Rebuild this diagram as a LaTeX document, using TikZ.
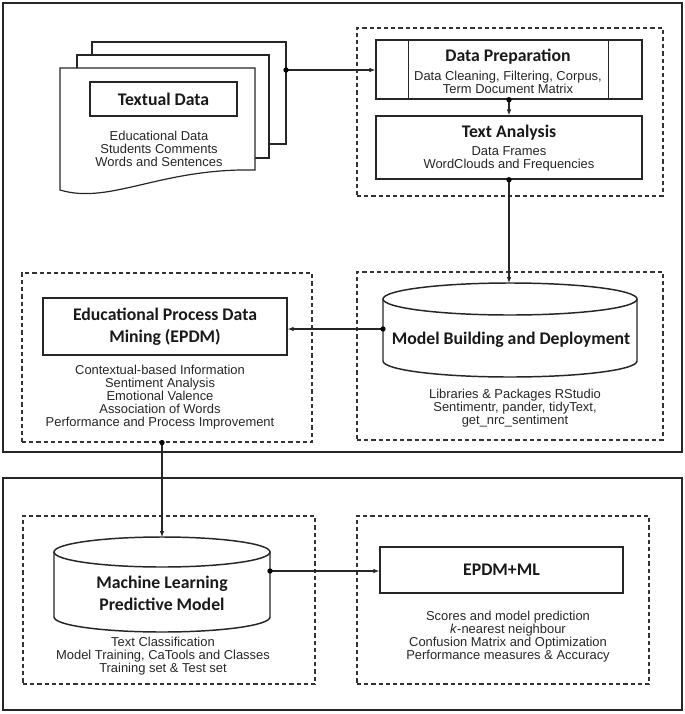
\documentclass[tikz,border=0pt]{standalone}
\usepackage{fontspec}
\setmainfont{Liberation Sans}
\newfontfamily\titlefont{Carlito}
\usepackage{tikz}
\usetikzlibrary{arrows.meta,calc}

\tikzset{
  frame/.style={draw=black!85, line width=1.3pt},
  grp/.style={draw=black!80, line width=0.85pt, dash pattern=on 3.2pt off 2.2pt, inner sep=0pt},
  box/.style={draw=black!85, line width=1.1pt, fill=white, inner sep=0pt},
  doc/.style={draw=black!85, line width=0.9pt, fill=white},
  ttl/.style={font=\titlefont\bfseries\fontsize{13.3}{16.5}\selectfont, align=center, inner sep=0pt, text=black!90},
  sub/.style={font=\fontsize{9.7}{9.7}\selectfont, align=center, inner sep=0pt, text=black!85},
  dot/.style={circle, fill=black, inner sep=0pt, minimum size=4pt},
  flow/.style={draw=black!85, line width=0.8pt, -{Latex[length=4.5pt,width=3.5pt]}}
}

\begin{document}
\begin{tikzpicture}[x=0.75pt,y=0.75pt,yscale=-1,xscale=1]
\useasboundingbox (0,0) rectangle (685,714);
%Shape: Rectangle [outer frames]
\draw[frame] (3,3) rectangle (682,452);
\draw[frame] (3,478) rectangle (682,710);

%Shape: Dashed groups
\node[grp, minimum width=229.5pt, minimum height=126pt] (gprep) at (510,112) {};
\node[grp, minimum width=229.5pt, minimum height=126pt] (gmodel) at (510,356) {};
\node[grp, minimum width=217.5pt, minimum height=126.75pt] (gepdm) at (167,357.5) {};
\node[grp, minimum width=219pt, minimum height=126pt] (gml) at (169,600) {};
\node[grp, minimum width=219pt, minimum height=126pt] (gres) at (503,600) {};

%Shape: Documents
\draw[doc] (92,42) rectangle (286,144);
\draw[doc] (77,55) rectangle (269,158);
\draw[doc] (60,68) -- (255,68) -- (255,170) .. controls (160,168) and (110,205) .. (60,190) -- cycle;
\coordinate (docs-out) at (286,70);

% Text Node
\node[box, ttl, minimum width=110.25pt, minimum height=25.5pt] (txt) at (163.5,99) {Textual Data};
\node[sub] (txt-s) at (159,148.5) {Educational Data\\Students Comments\\Words and Sentences};

%Shape: Data Preparation
\node[box, minimum width=199.5pt, minimum height=44.25pt] (prep) at (509,69.5) {};
\draw[box] ($(prep.north west)+(33,0)$) -- ($(prep.south west)+(33,0)$);
\draw[box] ($(prep.north east)+(-34,0)$) -- ($(prep.south east)+(-34,0)$);
\node[ttl] (prep-t) at (508,57) {Data Preparation};
\node[sub] (prep-s) at (508,82.5) {Data Cleaning, Filtering, Corpus,\\Term Document Matrix};

%Shape: Text Analysis
\node[box, minimum width=199.5pt, minimum height=47.25pt] (ta) at (509,147.5) {};
\node[ttl] (ta-t) at (509,133) {Text Analysis};
\node[sub] (ta-s) at (509,158.5) {Data Frames\\WordClouds and Frequencies};

%Shape: Cylinder [model]
\draw[box] (383,299) -- (383,361) arc[start angle=180, end angle=0, x radius=127, y radius=16] -- (637,299);
\draw[box] (510,299) ellipse [x radius=127, y radius=16];
\node[ttl] (mbd) at (511,340) {Model Building and Deployment};
\coordinate (mbd-top) at (510,283);
\coordinate (mbd-left) at (383,329);
\node[sub] (mbd-s) at (515,408) {Libraries \& Packages RStudio\\Sentimentr, pander, tidyText,\\get\_nrc\_sentiment};

%Shape: EPDM
\node[box, ttl, minimum width=183pt, minimum height=42.75pt] (epdm) at (165,326.5) {Educational Process Data\\Mining (EPDM)};
\node[sub] (epdm-s) at (160,397.5) {Contextual-based Information\\Sentiment Analysis\\Emotional Valence\\Association of Words\\Performance and Process Improvement};

%Shape: Cylinder [machine learning]
\draw[box] (54,552) -- (54,617) arc[start angle=180, end angle=0, x radius=108, y radius=15] -- (270,552);
\draw[box] (162,552) ellipse [x radius=108, y radius=15];
\node[ttl] (ml) at (162,593) {Machine Learning\\Predictive Model};
\coordinate (ml-top) at (162,537);
\coordinate (ml-right) at (270,571);
\node[sub] (ml-s) at (163,656) {Text Classification\\Model Training, CaTools and Classes\\Training set \& Test set};

%Shape: EPDM+ML
\node[box, ttl, minimum width=182.25pt, minimum height=34.5pt] (epdmml) at (501.5,570) {EPDM+ML};
\node[sub] (res-s) at (508,636.5) {Scores and model prediction\\\textit{k}-nearest neighbour\\Confusion Matrix and Optimization\\Performance measures \& Accuracy};

%Straight Lines [connectors]
\draw[flow] (docs-out) node[dot]{} -- (docs-out -| prep.west);
\draw[flow] (prep.south) node[dot]{} -- (ta.north);
\draw[flow] (ta.south) node[dot]{} -- (ta.south |- mbd-top);
\draw[flow] (mbd-left) node[dot]{} -- (mbd-left -| epdm.east);
\draw[flow] (gepdm.south -| ml-top) node[dot]{} -- (ml-top);
\draw[flow] (ml-right) node[dot]{} -- (ml-right -| epdmml.west);
\end{tikzpicture}
\end{document}
